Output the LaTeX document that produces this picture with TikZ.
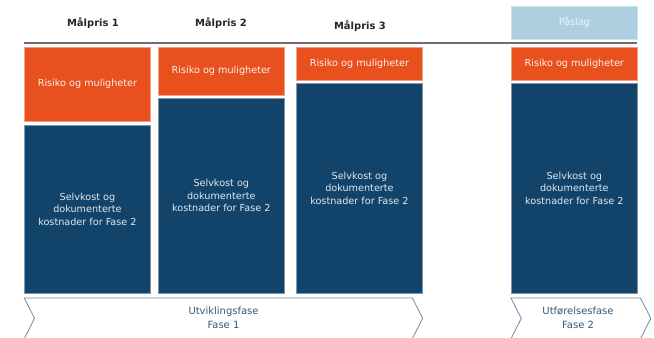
\documentclass[tikz,border=0pt]{standalone}
\usepackage{fontspec}
\setmainfont{DejaVu Sans}
\definecolor{riskorange}{HTML}{E8501E}
\definecolor{costblue}{HTML}{12436A}
\definecolor{markupblue}{HTML}{AECFE0}
\definecolor{rulegray}{HTML}{6E6E6E}
\definecolor{phaseline}{HTML}{6A8BA8}
\definecolor{phasetext}{HTML}{2F5A7D}
\tikzset{
  x=1bp, y=-1bp,
  boxbase/.style={line width=0.7bp, inner sep=0pt, font=\fontsize{9.7}{12.6}\selectfont, align=center},
  riskbox/.style={boxbase, fill=riskorange, draw=riskorange!55!white, text=white!92!riskorange},
  costbox/.style={boxbase, fill=costblue, draw=costblue!55!white, text=white!88!costblue},
  markupbox/.style={boxbase, fill=markupblue, draw=markupblue!60!white, text=white!80!markupblue},
  header/.style={font=\fontsize{10}{12}\selectfont\bfseries, text=black!85},
  phase/.style={draw=phaseline, line width=0.8bp, fill=white},
  phaselabel/.style={font=\fontsize{10}{13.5}\selectfont, text=phasetext, align=center}
}
\begin{document}
\begin{tikzpicture}
\useasboundingbox[fill=white] (0,0) rectangle (654,337);

% column headers
\node[header] (h1) at (93,23) {Målpris 1};
\node[header] (h2) at (221,23) {Målpris 2};
\node[header] (h3) at (360,26) {Målpris 3};
\draw[markupbox] (511.3,6) rectangle node (pa) {Påslag} (637.3,39.3);

% rule under the headers
\coordinate (ruleL) at (24,42.7);
\coordinate (ruleR) at (637.3,42.7);
\draw[rulegray, line width=1.6bp] (ruleL) -- (ruleR);

% target price 1
\draw[riskbox] (24.3,47.3) rectangle node (r1) {Risiko og muligheter} (150.6,121.3);
\draw[costbox] (24.3,125) rectangle node (c1) {Selvkost og\\dokumenterte\\kostnader for Fase 2} (150.6,293);

% target price 2
\draw[riskbox] (158.3,47.3) rectangle node (r2) {Risiko og muligheter} (284.3,95);
\draw[costbox] (158.3,98.3) rectangle node (c2) {Selvkost og\\dokumenterte\\kostnader for Fase 2} (284.3,293);

% target price 3
\draw[riskbox] (296.3,47.3) rectangle node (r3) {Risiko og muligheter} (422.6,80.7);
\draw[costbox] (296.3,83.3) rectangle node (c3) {Selvkost og\\dokumenterte\\kostnader for Fase 2} (422.6,293);

% phase 2 column
\draw[riskbox] (511.3,47.3) rectangle node (r4) {Risiko og muligheter} (637.3,80.7);
\draw[costbox] (511.3,83.3) rectangle node (c4) {Selvkost og\\dokumenterte\\kostnader for Fase 2} (637.3,293);

% phase chevrons
\draw[phase] (24.3,298) -- (412.3,298) -- (422.7,318.3) -- (412.3,338.6) -- (24.3,338.6) -- (34.5,318.3) -- cycle;
\node[phaselabel] (p1) at (223.5,318) {Utviklingsfase\\Fase 1};
\draw[phase] (511,298) -- (640.5,298) -- (650.8,318.3) -- (640.5,338.6) -- (511,338.6) -- (521.3,318.3) -- cycle;
\node[phaselabel] (p2) at (578,318) {Utførelsesfase\\Fase 2};
\end{tikzpicture}
\end{document}
